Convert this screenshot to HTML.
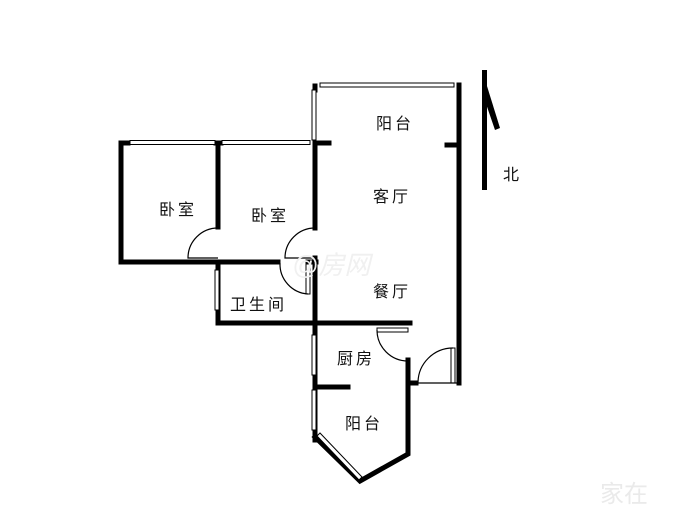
<!DOCTYPE html>
<html><head><meta charset="utf-8"><style>
html,body{margin:0;padding:0;background:#fff;}
svg{display:block}
text{font-family:"Liberation Sans","Noto Sans CJK SC",sans-serif;font-size:16px;fill:#111;letter-spacing:3px;}
</style></head><body>
<svg width="700" height="525" viewBox="0 0 700 525" xmlns="http://www.w3.org/2000/svg">
<rect width="700" height="525" fill="#fff"/>
<g stroke="#000" stroke-width="5" fill="none" stroke-linecap="square">
  <path d="M128,143 H121 V262 H278"/>
  <path d="M216,143 H221"/>
  <path d="M218,143 V227"/>
  <path d="M218,262 V323 H410"/>
  <path d="M315,143 V228"/>
  <path d="M315,258 V440"/>
  <path d="M315,143 H329"/>
  <path d="M308,262 H316"/>
  <path d="M459,85 V383"/>
  <path d="M447,145 H459"/>
  <path d="M315,387 H348"/>
  <path d="M408,360 V454 L360,481 L315,437"/>
  <path d="M408,383 H416"/>
  <path d="M315,86 V90"/>
</g>
<g stroke="#000" stroke-width="1" fill="#fff">
  <rect x="130" y="140.5" width="85" height="4"/>
  <rect x="222" y="140.5" width="88" height="4"/>
  <rect x="320" y="83" width="134" height="4"/>
  <rect x="312" y="90" width="4" height="50"/>
  <rect x="215" y="270" width="4" height="40"/>
  <rect x="312" y="335" width="4" height="40"/>
  <rect x="312" y="390" width="4" height="40"/>
  <rect x="377" y="328" width="31" height="4"/>
  <rect x="451" y="348" width="4" height="35"/>
  <rect x="306" y="264" width="4" height="30"/>
  <polygon points="317,436 320,433 362,477 359,480"/>
</g>
<g stroke="#000" stroke-width="1.2" fill="none">
  <path d="M218,228 A30,30 0 0 0 188,258 H218"/>
  <path d="M315,228 A30,30 0 0 0 285,258 H315"/>
  <path d="M280,263 A30,30 0 0 0 308,294"/>
  <path d="M377,330 A31,31 0 0 0 408,361"/>
  <path d="M453,348 A35,35 0 0 0 418,383 H459"/>
</g>
<rect x="482" y="70" width="5" height="120" fill="#000"/>
<polygon points="482,70 500,128 495,130 484,98" fill="#000"/>
<text x="503" y="180">北</text>
<text x="376" y="129">阳台</text>
<text x="373" y="202">客厅</text>
<text x="159" y="215">卧室</text>
<text x="251" y="221">卧室</text>
<text x="373" y="297">餐厅</text>
<text x="230" y="310">卫生间</text>
<text x="337" y="364">厨房</text>
<text x="345" y="429">阳台</text>
<text x="292" y="274" style="font-size:26px;font-style:italic;fill:#f0f0f0;letter-spacing:0">@房网</text>
<text x="600" y="502" style="font-size:24px;fill:#eaeaea;letter-spacing:0">家在</text>
</svg>
</body></html>
